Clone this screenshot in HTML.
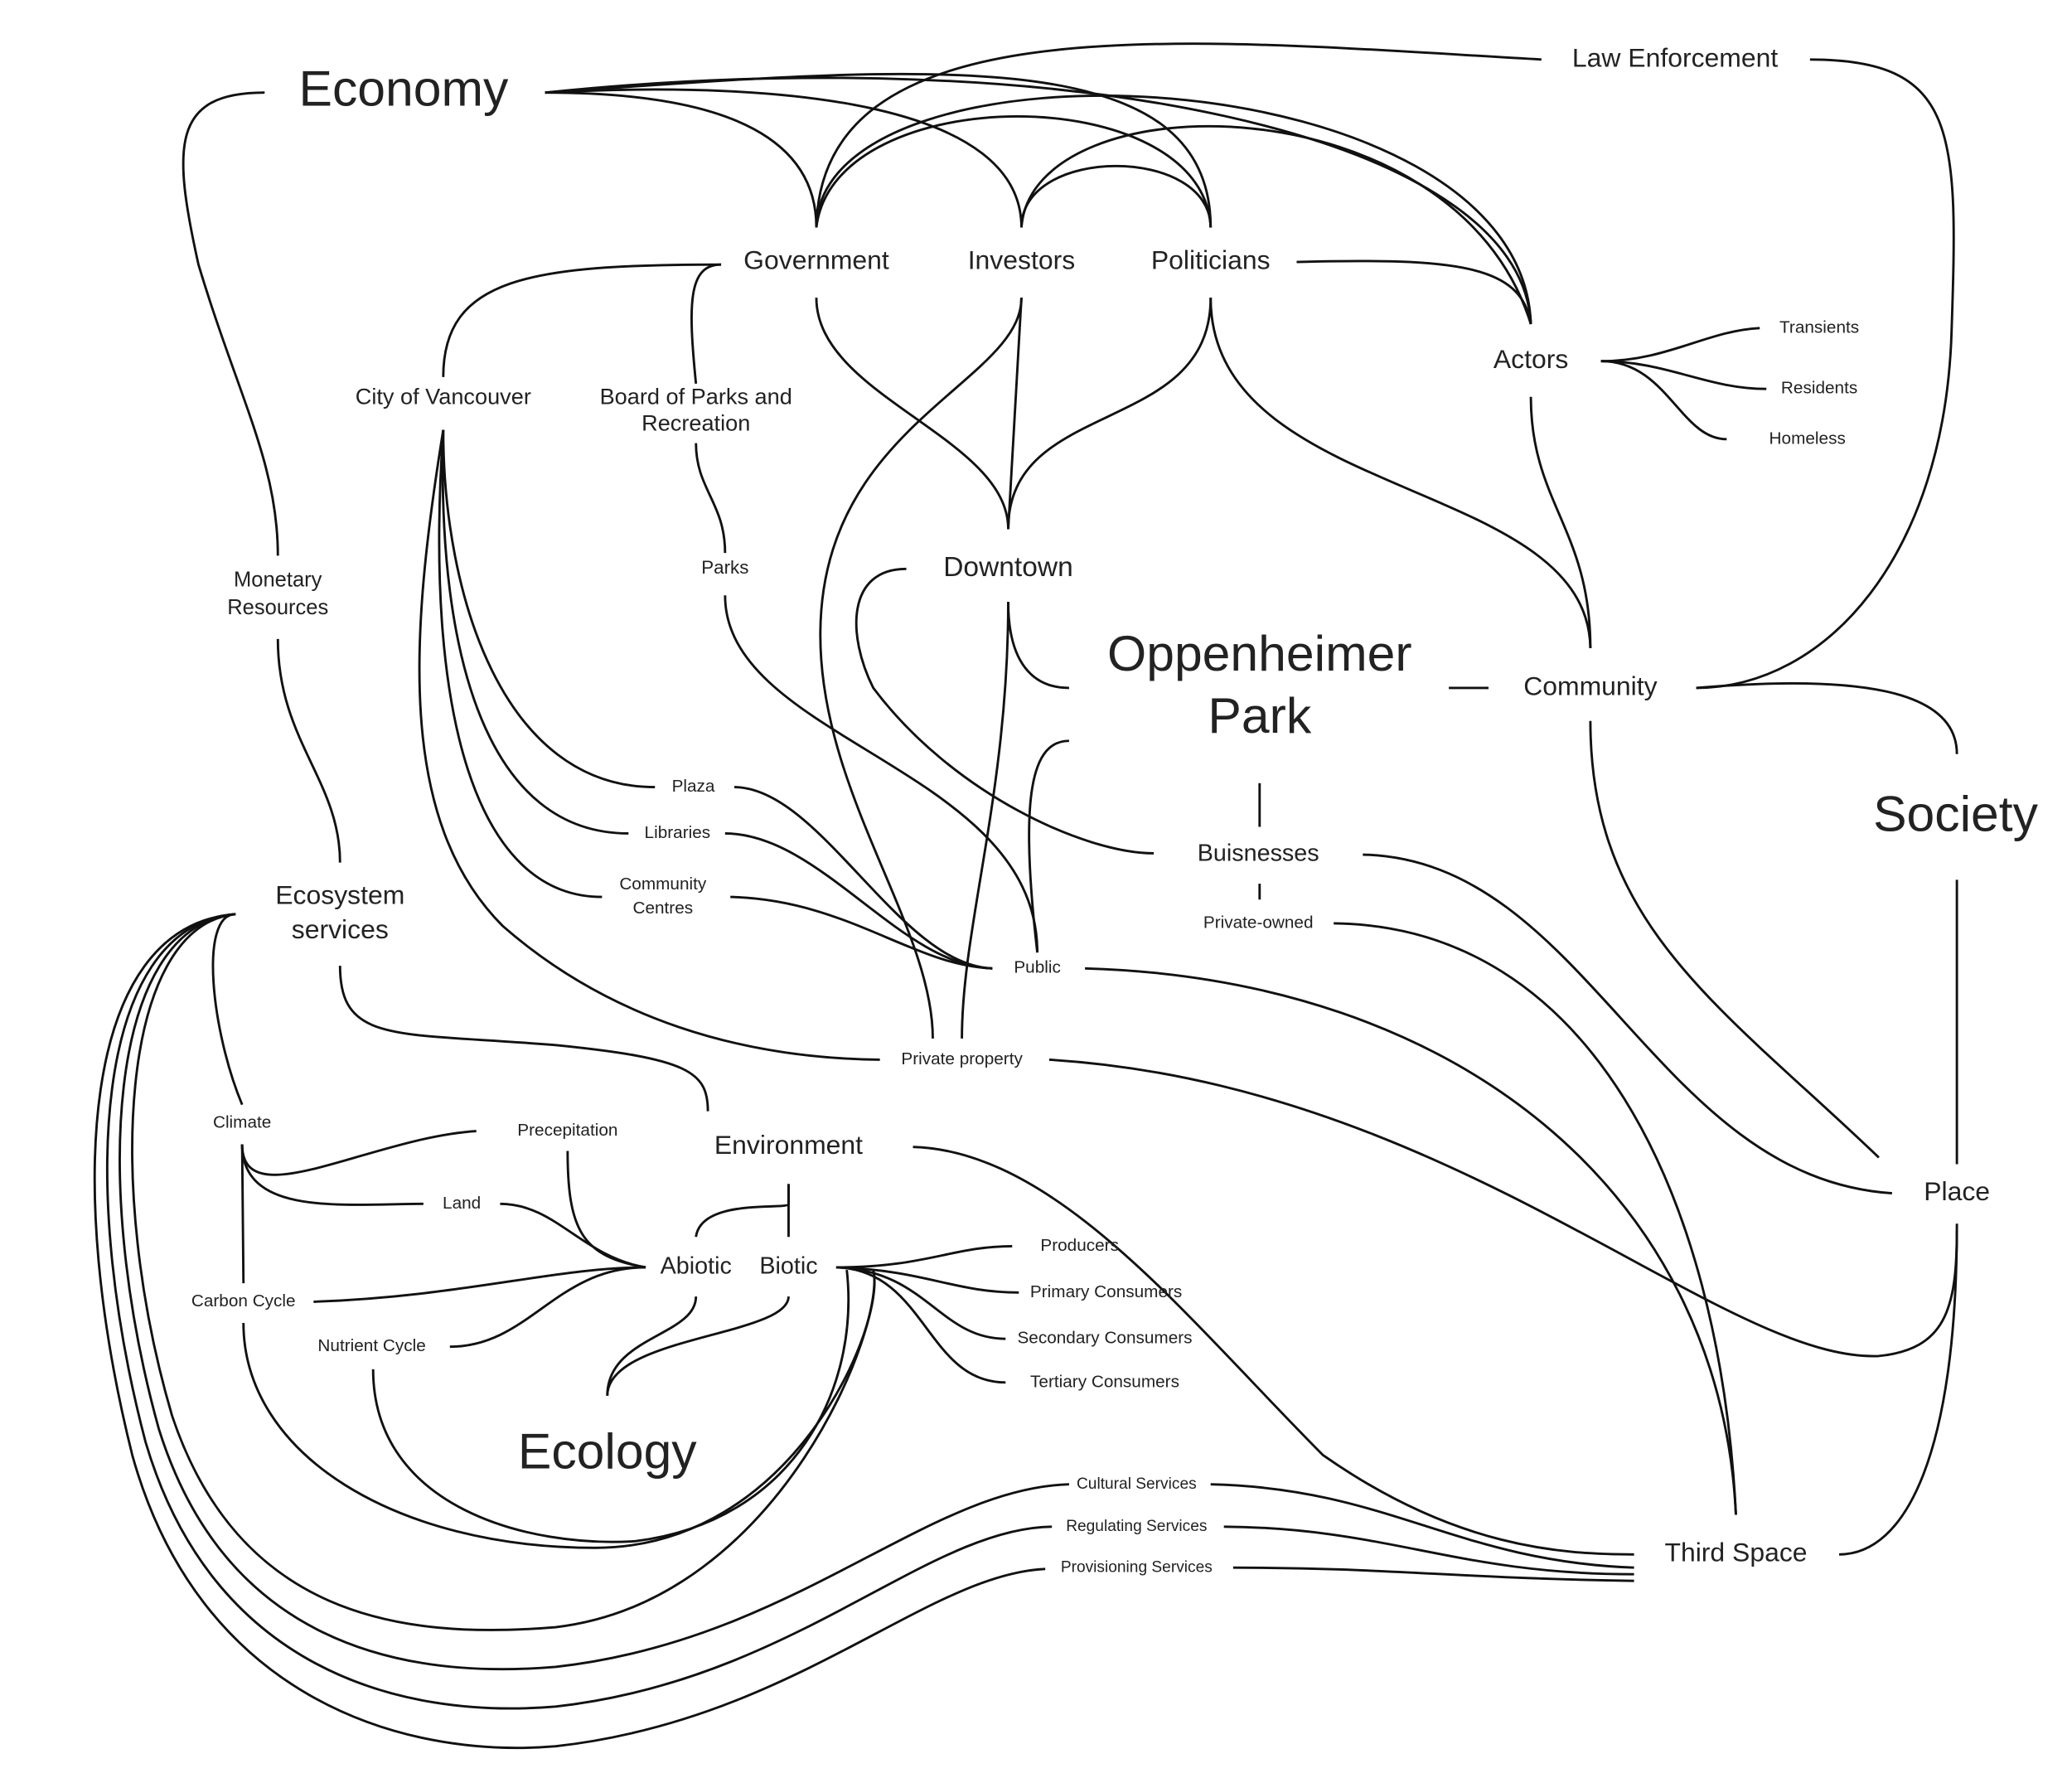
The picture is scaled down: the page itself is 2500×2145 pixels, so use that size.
<!DOCTYPE html>
<html><head><meta charset="utf-8"><style>
html,body{margin:0;padding:0;background:#fff;}
svg{display:block;}
text{font-family:"Liberation Sans",sans-serif;fill:#222;text-anchor:middle;dominant-baseline:middle;}
path{fill:none;stroke:#111;stroke-width:1.8;}
</style></head><body>
<svg width="2500" height="2145" viewBox="0 0 1566 1344" preserveAspectRatio="none" xmlns="http://www.w3.org/2000/svg">
<rect width="1566" height="1344" fill="#fff"/>
<path d="M412 70 C540 70 617 100 617 172"/>
<path d="M412 70 C600 60 772 80 772 172"/>
<path d="M412 70 C700 50 915 30 915 172"/>
<path d="M412 70 C800 30 1150 100 1157 245"/>
<path d="M1165 45 C900 30 620 0 617 172"/>
<path d="M617 172 C620 20 1150 40 1157 245"/>
<path d="M772 172 C772 110 915 110 915 172"/>
<path d="M772 172 C780 60 1100 60 1157 245"/>
<path d="M617 172 C630 60 910 60 915 172"/>
<path d="M1368 45 C1480 45 1480 100 1475 250 C1470 420 1380 520 1282 520"/>
<path d="M200 70 C130 70 130 110 150 200 C180 300 210 350 210 420"/>
<path d="M210 483 C210 560 257 590 257 652"/>
<path d="M980 198 C1100 195 1150 200 1157 245"/>
<path d="M1210 273 C1260 273 1290 250 1330 248"/>
<path d="M1210 273 C1260 273 1290 294 1335 294"/>
<path d="M1210 273 C1260 273 1270 332 1305 332"/>
<path d="M1157 300 C1157 380 1202 400 1202 490"/>
<path d="M915 225 C915 380 1200 360 1202 490"/>
<path d="M617 225 C617 300 762 330 762 400"/>
<path d="M772 225 L762 400"/>
<path d="M915 225 C915 330 762 300 762 400"/>
<path d="M772 225 C772 290 620 320 620 480 C620 600 705 700 705 785"/>
<path d="M545 200 C400 200 335 210 335 285"/>
<path d="M545 200 C520 200 520 230 526 290"/>
<path d="M526 335 C526 370 548 380 548 418"/>
<path d="M548 450 C548 560 784 580 784 720"/>
<path d="M335 325 C335 450 380 595 495 595"/>
<path d="M335 325 C330 500 370 630 475 630"/>
<path d="M335 325 C320 540 360 678 455 678"/>
<path d="M335 325 C310 480 300 620 380 700 C460 770 560 800 665 801"/>
<path d="M555 595 C620 595 680 730 750 732"/>
<path d="M548 630 C620 630 680 730 750 732"/>
<path d="M552 678 C640 680 690 730 750 732"/>
<path d="M762 455 C762 500 780 520 808 520"/>
<path d="M762 455 C762 600 727 700 727 785"/>
<path d="M685 430 C640 430 640 480 660 520 C720 600 820 645 872 645"/>
<path d="M808 560 C780 560 770 600 784 720"/>
<path d="M1095 520 L1125 520"/>
<path d="M952 592 L952 625"/>
<path d="M952 668 L952 680"/>
<path d="M1030 646 C1200 650 1250 890 1430 902"/>
<path d="M1008 698 C1200 700 1300 900 1312 1145"/>
<path d="M820 732 C1100 740 1300 900 1312 1145"/>
<path d="M793 801 C1100 820 1300 1030 1420 1025 C1470 1020 1479 990 1479 930"/>
<path d="M1202 545 C1202 700 1300 760 1420 875"/>
<path d="M1282 520 C1400 510 1479 520 1479 570"/>
<path d="M1479 665 L1479 880"/>
<path d="M1479 925 C1479 1100 1440 1175 1390 1175"/>
<path d="M257 730 C257 790 300 780 420 790 C520 800 535 810 535 840"/>
<path d="M690 867 C800 870 900 1000 1000 1100 C1100 1170 1180 1175 1235 1175"/>
<path d="M596 895 L596 910 C596 915 530 905 526 935"/>
<path d="M596 895 L596 935"/>
<path d="M178 691 C150 691 160 780 183 835"/>
<path d="M178 691 C60 700 50 900 100 1100 C150 1280 300 1330 420 1320 C600 1300 700 1190 790 1186"/>
<path d="M178 691 C70 700 60 900 110 1090 C160 1260 300 1300 420 1290 C600 1270 700 1155 795 1154"/>
<path d="M178 691 C80 700 70 900 120 1080 C170 1240 300 1270 420 1260 C600 1240 700 1125 808 1122"/>
<path d="M178 691 C90 700 80 900 130 1070 C180 1220 300 1240 420 1230 C590 1210 670 1000 660 960"/>
<path d="M183 865 C183 920 280 860 360 855"/>
<path d="M183 865 C183 920 260 910 320 910"/>
<path d="M183 865 L184 970"/>
<path d="M184 1000 C184 1100 300 1170 450 1170 C600 1170 670 1000 660 960"/>
<path d="M282 1035 C282 1140 400 1170 480 1165 C600 1150 650 1050 640 960"/>
<path d="M429 870 C429 930 440 950 488 958"/>
<path d="M378 910 C420 910 440 950 488 958"/>
<path d="M237 984 C350 980 420 958 488 958"/>
<path d="M340 1018 C400 1018 420 958 488 958"/>
<path d="M526 980 C526 1010 459 1010 459 1055"/>
<path d="M596 980 C596 1010 459 1010 459 1055"/>
<path d="M632 958 C700 958 720 942 765 942"/>
<path d="M632 958 C700 960 720 977 770 977"/>
<path d="M632 958 C700 960 710 1012 760 1012"/>
<path d="M632 958 C700 960 700 1045 760 1045"/>
<path d="M915 1122 C1050 1125 1100 1180 1235 1185"/>
<path d="M925 1154 C1050 1155 1100 1190 1235 1190"/>
<path d="M932 1185 C1050 1185 1100 1193 1235 1195"/>
<g>
<text x="305" y="70" font-size="38">Economy</text>
<text x="1266" y="45" font-size="20">Law Enforcement</text>
<text x="617" y="198" font-size="20">Government</text>
<text x="772" y="198" font-size="20">Investors</text>
<text x="915" y="198" font-size="20">Politicians</text>
<text x="1157" y="273" font-size="20">Actors</text>
<text x="1375" y="248" font-size="13">Transients</text>
<text x="1375" y="294" font-size="13">Residents</text>
<text x="1366" y="332" font-size="13">Homeless</text>
<text x="335" y="301" font-size="17">City of Vancouver</text>
<text x="526" y="301" font-size="17">Board of Parks and</text>
<text x="526" y="321" font-size="17">Recreation</text>
<text x="210" y="439" font-size="16">Monetary</text>
<text x="210" y="460" font-size="16">Resources</text>
<text x="548" y="430" font-size="14">Parks</text>
<text x="762" y="430" font-size="21">Downtown</text>
<text x="952" y="497" font-size="38">Oppenheimer</text>
<text x="952" y="544" font-size="38">Park</text>
<text x="1202" y="520" font-size="20">Community</text>
<text x="1478" y="618" font-size="38">Society</text>
<text x="524" y="595" font-size="13">Plaza</text>
<text x="512" y="630" font-size="13">Libraries</text>
<text x="501" y="669" font-size="13">Community</text>
<text x="501" y="687" font-size="13">Centres</text>
<text x="951" y="646" font-size="18">Buisnesses</text>
<text x="951" y="698" font-size="13">Private-owned</text>
<text x="784" y="732" font-size="13">Public</text>
<text x="727" y="801" font-size="13">Private property</text>
<text x="257" y="678" font-size="20">Ecosystem</text>
<text x="257" y="704" font-size="20">services</text>
<text x="183" y="849" font-size="13">Climate</text>
<text x="429" y="855" font-size="13">Precepitation</text>
<text x="349" y="910" font-size="13">Land</text>
<text x="596" y="867" font-size="20">Environment</text>
<text x="526" y="958" font-size="18">Abiotic</text>
<text x="596" y="958" font-size="18">Biotic</text>
<text x="816" y="942" font-size="13">Producers</text>
<text x="836" y="977" font-size="13">Primary Consumers</text>
<text x="835" y="1012" font-size="13">Secondary Consumers</text>
<text x="835" y="1045" font-size="13">Tertiary Consumers</text>
<text x="184" y="984" font-size="13">Carbon Cycle</text>
<text x="281" y="1018" font-size="13">Nutrient Cycle</text>
<text x="459" y="1100" font-size="38">Ecology</text>
<text x="1479" y="902" font-size="20">Place</text>
<text x="859" y="1122" font-size="12">Cultural Services</text>
<text x="859" y="1154" font-size="12">Regulating Services</text>
<text x="859" y="1185" font-size="12">Provisioning Services</text>
<text x="1312" y="1175" font-size="20">Third Space</text>
</g>
</svg>
</body></html>
